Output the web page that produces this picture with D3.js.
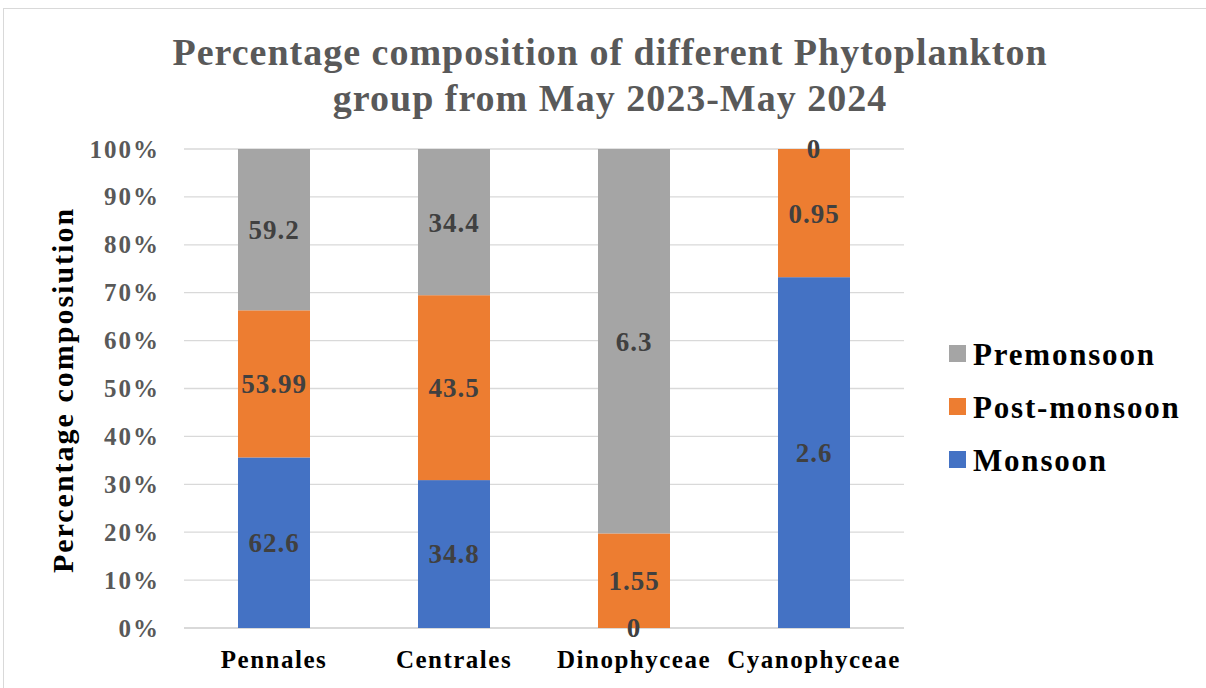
<!DOCTYPE html>
<html>
<head>
<meta charset="utf-8">
<script src="https://cdn.jsdelivr.net/npm/d3@7"></script>
<style>
  body { margin: 0; background: #fff; }
  text { font-family: "Liberation Serif", "DejaVu Serif", serif; font-weight: bold; }
</style>
</head>
<body>
<div id="chart-area"></div>
<script>
// data
const categories = ["Pennales", "Centrales", "Dinophyceae", "Cyanophyceae"]
const seriesNames = ["Monsoon", "Post-monsoon", "Premonsoon"]
const monsoon = [62.6, 34.8, 0, 2.6]
const postMonsoon = [53.99, 43.5, 1.55, 0.95]
const premonsoon = [59.2, 34.4, 6.3, 0]
const yTicks = [0, 0.1, 0.2, 0.3, 0.4, 0.5, 0.6, 0.7, 0.8, 0.9, 1]
const colors = ["#4472c4", "#ed7d31", "#a5a5a5"]

const W = 1206, H = 688
const MARGIN = { LEFT: 184, RIGHT: 302, TOP: 149, BOTTOM: 60 }
const WIDTH = W - MARGIN.LEFT - MARGIN.RIGHT
const HEIGHT = H - MARGIN.TOP - MARGIN.BOTTOM

const svg = d3.select("#chart-area").append("svg")
  .attr("width", W)
  .attr("height", H)

// chart border
svg.append("rect")
  .attr("x", 3.5).attr("y", 8.5)
  .attr("width", W).attr("height", H)
  .attr("fill", "none")
  .attr("stroke", "#d9d9d9")

// title
svg.append("text")
  .attr("text-anchor", "middle")
  .attr("font-size", "38px")
  .attr("letter-spacing", "1px")
  .attr("fill", "#595959")
  .selectAll("tspan")
  .data(["Percentage composition of different Phytoplankton", "group from May 2023-May 2024"])
  .enter().append("tspan")
  .attr("x", 610)
  .attr("y", (d, i) => 65 + i * 46)
  .text(d => d)

const g = svg.append("g")
  .attr("transform", `translate(${MARGIN.LEFT}, ${MARGIN.TOP})`)

const x = d3.scaleBand()
  .domain(categories)
  .range([0, WIDTH])
  .paddingInner(0.6)
  .paddingOuter(0.3)

const y = d3.scaleLinear()
  .domain([0, 1])
  .range([HEIGHT, 0])

// gridlines
g.append("g")
  .selectAll("line")
  .data(yTicks)
  .enter().append("line")
  .attr("x1", 0).attr("x2", WIDTH)
  .attr("y1", d => y(d)).attr("y2", d => y(d))
  .attr("stroke", "#d9d9d9")
  .attr("stroke-width", d => d === 0 ? 2 : 1.3)

// y axis labels
const yAxisCall = d3.axisLeft(y)
  .tickValues(yTicks)
  .tickFormat(d3.format(".0%"))
  .tickSize(0)
  .tickPadding(24)
const yAxisGroup = g.append("g").call(yAxisCall)
yAxisGroup.select(".domain").remove()
yAxisGroup.selectAll("text")
  .attr("font-size", "25px")
  .attr("letter-spacing", "2px")
  .attr("fill", "#595959")
  .attr("font-family", "Liberation Serif")

// x axis labels
const xAxisCall = d3.axisBottom(x).tickSize(0).tickPadding(22)
const xAxisGroup = g.append("g")
  .attr("transform", `translate(0, ${HEIGHT})`)
  .call(xAxisCall)
xAxisGroup.select(".domain").remove()
xAxisGroup.selectAll("text")
  .attr("font-size", "25px")
  .attr("letter-spacing", "1.5px")
  .attr("fill", "#000")
  .attr("font-family", "Liberation Serif")

// Y label
svg.append("text")
  .attr("transform", "translate(73, 390) rotate(-90)")
  .attr("text-anchor", "middle")
  .attr("font-size", "30px")
  .attr("letter-spacing", "2px")
  .attr("fill", "#000")
  .text("Percentage composiution")

// stacked 100% data
const rows = categories.map((c, i) => ({
  category: c,
  "Monsoon": monsoon[i],
  "Post-monsoon": postMonsoon[i],
  "Premonsoon": premonsoon[i]
}))
const stack = d3.stack().keys(seriesNames).offset(d3.stackOffsetExpand)
const layers = stack(rows)

const layerG = g.selectAll(".layer")
  .data(layers)
  .enter().append("g")
  .attr("class", "layer")
  .attr("fill", (d, i) => colors[i])

layerG.selectAll("rect")
  .data(d => d)
  .enter().append("rect")
  .attr("x", d => x(d.data.category))
  .attr("width", x.bandwidth())
  .attr("y", d => y(d[1]))
  .attr("height", d => y(d[0]) - y(d[1]))

// data labels
layers.forEach(layer => {
  layer.forEach(d => {
    g.append("text")
      .attr("x", x(d.data.category) + x.bandwidth() / 2)
      .attr("y", (y(d[0]) + y(d[1])) / 2)
      .attr("dy", "0.35em")
      .attr("text-anchor", "middle")
      .attr("font-size", "27px")
      .attr("letter-spacing", "1px")
      .attr("fill", "#404040")
      .text(d.data[layer.key])
  })
})

// legend
const legendNames = seriesNames.slice().reverse()
const legend = svg.append("g")
  .attr("transform", "translate(949, 354)")
legend.selectAll("rect")
  .data(legendNames)
  .enter().append("rect")
  .attr("x", 0)
  .attr("y", (d, i) => i * 53 - 9)
  .attr("width", 17).attr("height", 17)
  .attr("fill", d => colors[seriesNames.indexOf(d)])
legend.selectAll("text")
  .data(legendNames)
  .enter().append("text")
  .attr("x", 24)
  .attr("y", (d, i) => i * 53)
  .attr("dy", "0.35em")
  .attr("font-size", "31px")
  .attr("letter-spacing", "1.8px")
  .attr("fill", "#000")
  .text(d => d)
</script>
</body>
</html>
